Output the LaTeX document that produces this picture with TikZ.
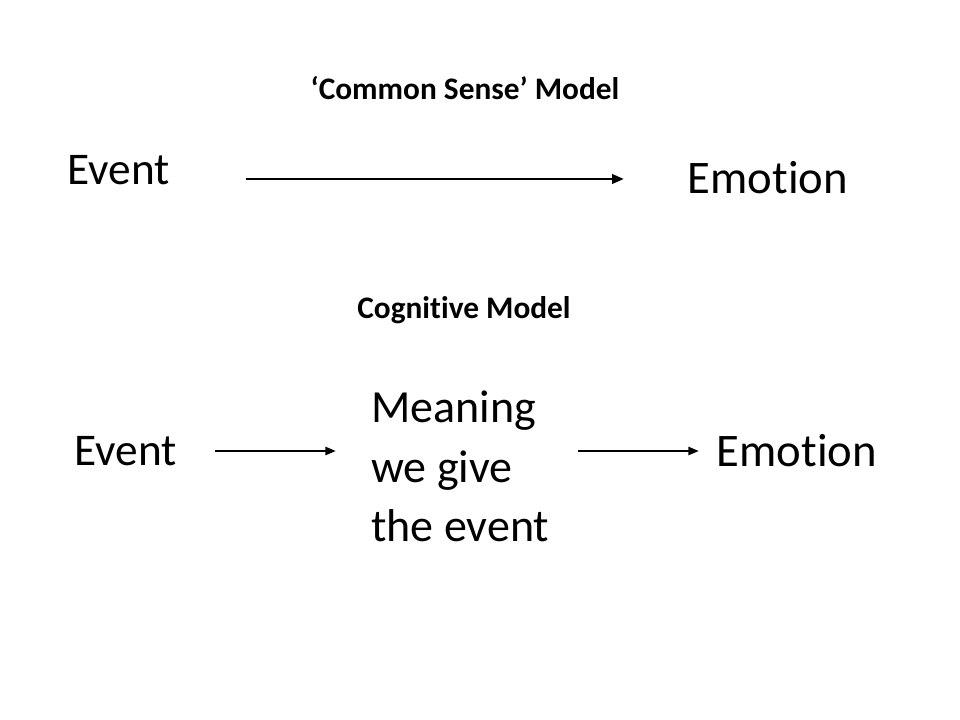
\documentclass[tikz,border=0pt]{standalone}
\usepackage{fontspec}
\setmainfont[Ligatures=NoCommon]{Carlito}
\usetikzlibrary{arrows.meta}
\begin{document}
\begin{tikzpicture}[x=0.75pt,y=-0.75pt,
  big/.style={inner sep=0pt,font=\fontsize{34}{40}\selectfont},
  ttl/.style={inner sep=0pt,font=\fontsize{23.5}{28}\selectfont\bfseries},
  arr/.style={line width=2.2pt,-{Triangle[length=9pt,width=7pt]}},
  arrs/.style={line width=1.8pt,-{Triangle[length=8pt,width=6pt]}}]
\useasboundingbox[fill=white] (0,0) rectangle (960,720);
\node[ttl] (t1) at (465,88) {‘Common Sense’ Model};
\node[big] (e1) at (119,170) {Event};
\node[big,font=\fontsize{35}{40}\selectfont] (m1) at (768,178) {Emotion};
\coordinate (a1s) at (246,179);
\coordinate (a1e) at (624,179);
\draw[arr] (a1s) -- (a1e);
\node[ttl] (t2) at (464,310) {Cognitive Model};
\node[big] (e2) at (126,451) {Event};
\node[big,anchor=north west,align=left,font=\fontsize{34.5}{44.5}\selectfont] (mn) at (371,391) {Meaning\\we give\\the event};
\node[big,font=\fontsize{35}{40}\selectfont] (m2) at (797,451) {Emotion};
\coordinate (a2s) at (215,451);
\coordinate (a2e) at (336,451);
\coordinate (a3s) at (578,451);
\coordinate (a3e) at (699,451);
\draw[arrs] (a2s) -- (a2e);
\draw[arrs] (a3s) -- (a3e);
\end{tikzpicture}
\end{document}
